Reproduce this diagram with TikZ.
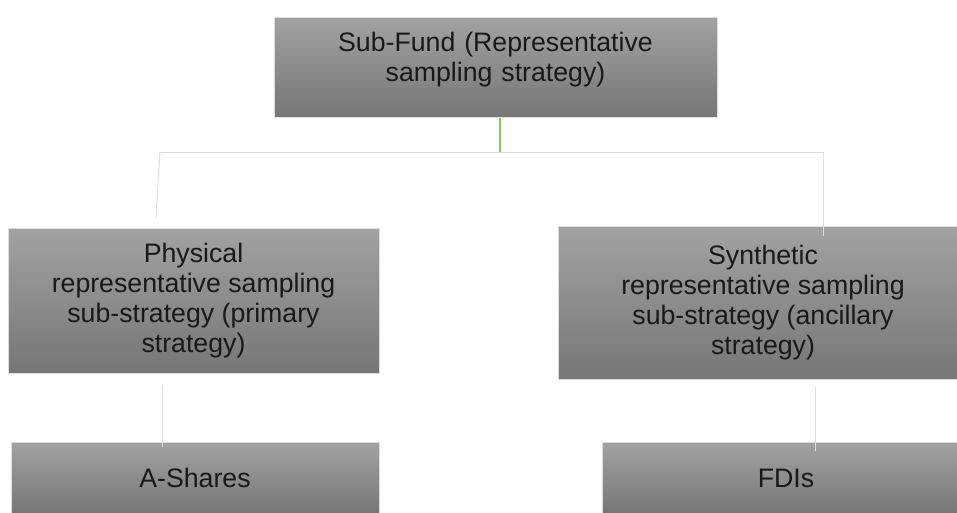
\documentclass[tikz,border=0pt]{standalone}
\usepackage{fontspec}
\setmainfont{Liberation Sans}
\definecolor{boxtop}{RGB}{162,162,162}
\definecolor{boxbot}{RGB}{118,118,118}
\definecolor{boxline}{RGB}{220,220,220}
\definecolor{linkgray}{RGB}{222,222,222}
\definecolor{linkgreen}{RGB}{140,198,88}
\tikzset{
    fundbox/.style={draw=boxline, line width=1pt, top color=boxtop, bottom color=boxbot,
        inner sep=0pt, align=center, text=black!90,
        font=\fontsize{26.7}{30}\selectfont},
    link/.style={draw=linkgray, line width=1pt}
}
\begin{document}
\begin{tikzpicture}[x=1pt, y=-1pt]
        \useasboundingbox (0,0) rectangle (957,512);

        % Draw the boxes of the strategy tree
        \node[fundbox, text width=430pt, minimum width=443pt, minimum height=100pt] (sub) at (495.5, 67)
            {Sub-Fund (Representative\\sampling strategy)\par\vspace{14pt}};

        \node[fundbox, minimum width=371pt, minimum height=145pt] (phys) at (193.5, 300.5)
            {Physical\\representative sampling\\sub-strategy (primary\\strategy)};
        \node[fundbox, minimum width=410pt, minimum height=153pt] (synth) at (763, 303)
            {Synthetic\\representative sampling\\sub-strategy (ancillary\\strategy)};

        \node[fundbox, minimum width=368pt, minimum height=72pt] (ashares) at (195, 478) {A-Shares};
        \node[fundbox, minimum width=368pt, minimum height=72pt] (fdis) at (786, 478) {FDIs};

        % Draw the connectors between the boxes
        \coordinate (hub) at (500, 152);
        \coordinate (lend) at (160, 152);
        \coordinate (rend) at (823, 152);
        \coordinate (ltip) at (156, 217);
        \coordinate (ltop) at (162, 385);
        \coordinate (rtop) at (815, 387);

        \draw[link] (lend) -- (rend);
        \draw[link] (lend) -- (ltip);
        \draw[link] (rend) -- ([yshift=-10pt]rend |- synth.north);
        \draw[link] (ltop) -- ([yshift=-5pt]ltop |- ashares.north);
        \draw[link] (rtop) -- ([yshift=-9pt]rtop |- fdis.north);
        \draw[draw=linkgreen, line width=1.2pt] (sub.south -| hub) -- (hub);
    \end{tikzpicture}
\end{document}
